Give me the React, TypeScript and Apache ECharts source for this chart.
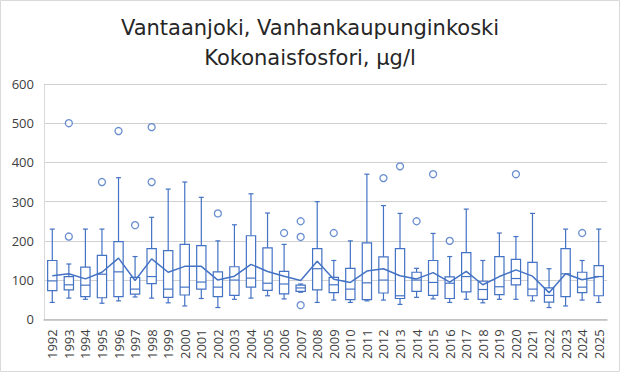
import React, { useEffect, useRef } from "react";
import * as echarts from "echarts";

const years = [
  "1992", "1993", "1994", "1995", "1996", "1997", "1998", "1999", "2000", "2001",
  "2002", "2003", "2004", "2005", "2006", "2007", "2008", "2009", "2010", "2011",
  "2012", "2013", "2014", "2015", "2016", "2017", "2018", "2019", "2020", "2021",
  "2022", "2023", "2024", "2025",
];
const whiskerLow = [43, 54, 51, 41, 47, 57, 54, 42, 34, 53, 30, 51, 54, 60, 52, 69, 43, 49, 43, 47, 49, 38, 56, 52, 43, 51, 42, 51, 51, 47, 30, 34, 49, 43];
const q1 = [73, 75, 58, 55, 58, 64, 91, 56, 62, 77, 58, 61, 82, 74, 65, 71, 75, 68, 50, 50, 67, 53, 71, 61, 53, 70, 51, 63, 88, 60, 44, 58, 68, 60];
const median = [98, 88, 87, 115, 121, 77, 109, 77, 82, 95, 82, 100, 105, 92, 90, 80, 129, 88, 77, 93, 100, 60, 100, 94, 92, 109, 76, 83, 104, 77, 61, 116, 82, 109];
const q3 = [150, 109, 133, 163, 198, 107, 180, 175, 191, 188, 121, 134, 213, 182, 122, 87, 180, 107, 130, 195, 159, 180, 120, 150, 108, 170, 97, 160, 153, 145, 80, 180, 120, 137];
const whiskerHigh = [230, 141, 230, 230, 361, 160, 260, 332, 350, 311, 200, 241, 320, 271, 191, 90, 300, 150, 200, 370, 290, 270, 130, 219, 160, 281, 150, 220, 211, 270, 129, 230, 150, 230];
const means = [111, 116, 103, 120, 156, 99, 154, 120, 135, 135, 100, 110, 140, 122, 110, 99, 148, 102, 94, 123, 129, 111, 103, 119, 95, 122, 88, 109, 126, 110, 68, 116, 101, 109];
const outlierYears = ["1993", "1993", "1995", "1996", "1997", "1998", "1998", "2002", "2006", "2007", "2007", "2007", "2009", "2012", "2013", "2014", "2015", "2016", "2020", "2024"];
const outlierValues = [500, 211, 350, 480, 240, 490, 350, 270, 220, 250, 210, 36, 220, 360, 390, 250, 370, 200, 370, 220];
const yTicks = [0, 100, 200, 300, 400, 500, 600];

const BLUE = "#4472C4";

export default function App() {
  const ref = useRef<HTMLDivElement>(null);
  useEffect(() => {
    if (!ref.current) return;
    const chart = echarts.init(ref.current, undefined, { renderer: "svg" });
    const boxData = years.map((_, i) => [i, whiskerLow[i], q1[i], median[i], q3[i], whiskerHigh[i]]);
    const outlierData = outlierYears.map((y, i) => [y, outlierValues[i]]);
    const option: any = {
      animation: false,
      backgroundColor: "#ffffff",
      title: {
        text: "Vantaanjoki, Vanhankaupunginkoski\nKokonaisfosfori, µg/l",
        left: "center",
        top: 8,
        textStyle: {
          fontFamily: "DejaVu Sans",
          fontSize: 21,
          fontWeight: "normal",
          color: "#262626",
          lineHeight: 30,
        },
      },
      graphic: [
        {
          type: "rect",
          shape: { x: 0.5, y: 0.5, width: 619, height: 371 },
          style: { fill: "none", stroke: "#d9d9d9", lineWidth: 1 },
          silent: true,
        },
      ],
      grid: { left: 44, right: 13, top: 84, bottom: 52.7 },
      xAxis: {
        type: "category",
        data: years,
        boundaryGap: true,
        axisTick: { show: false },
        axisLine: { show: true, lineStyle: { color: "#bfbfbf", width: 1.5 } },
        axisLabel: {
          rotate: 90,
          interval: 0,
          margin: 10,
          fontFamily: "Open Sans",
          fontSize: 13,
          color: "#404040",
        },
        splitLine: { show: false },
      },
      yAxis: {
        type: "value",
        min: yTicks[0],
        max: yTicks[yTicks.length - 1],
        interval: 100,
        axisLine: { show: true, lineStyle: { color: "#d9d9d9", width: 1 } },
        axisTick: { show: false },
        axisLabel: {
          margin: 10,
          fontFamily: "Open Sans",
          fontSize: 13,
          color: "#404040",
        },
        splitLine: { show: true, lineStyle: { color: "#d0d0d0", width: 1.2 } },
      },
      series: [
        {
          type: "custom",
          name: "box",
          data: boxData,
          encode: { x: 0, y: [1, 2, 3, 4, 5] },
          z: 2,
          renderItem: (params: any, api: any) => {
            const idx = api.value(0);
            const pLo = api.coord([idx, api.value(1)]);
            const pQ1 = api.coord([idx, api.value(2)]);
            const pMed = api.coord([idx, api.value(3)]);
            const pQ3 = api.coord([idx, api.value(4)]);
            const pHi = api.coord([idx, api.value(5)]);
            const cw = api.size([1, 0])[0];
            const bw = cw * 0.56;
            const cx = pQ1[0];
            const cap = 2.5;
            const st = { stroke: BLUE, lineWidth: 1.2, fill: "none" };
            return {
              type: "group",
              children: [
                { type: "line", shape: { x1: cx, y1: pLo[1], x2: cx, y2: pQ1[1] }, style: st },
                { type: "line", shape: { x1: cx, y1: pQ3[1], x2: cx, y2: pHi[1] }, style: st },
                { type: "line", shape: { x1: cx - cap, y1: pLo[1], x2: cx + cap, y2: pLo[1] }, style: st },
                { type: "line", shape: { x1: cx - cap, y1: pHi[1], x2: cx + cap, y2: pHi[1] }, style: st },
                {
                  type: "rect",
                  shape: { x: cx - bw / 2, y: pQ3[1], width: bw, height: pQ1[1] - pQ3[1] },
                  style: { stroke: BLUE, lineWidth: 1.2, fill: "#ffffff" },
                },
                { type: "line", shape: { x1: cx - bw / 2, y1: pMed[1], x2: cx + bw / 2, y2: pMed[1] }, style: st },
              ],
            };
          },
        },
        {
          type: "line",
          name: "mean",
          data: means,
          symbol: "none",
          z: 3,
          lineStyle: { color: BLUE, width: 1.5 },
          itemStyle: { color: BLUE },
        },
        {
          type: "scatter",
          name: "outliers",
          data: outlierData,
          symbol: "circle",
          symbolSize: 7,
          z: 4,
          itemStyle: { color: "#ffffff", borderColor: BLUE, borderWidth: 1.3 },
        },
      ],
    };
    chart.setOption(option);
    return () => chart.dispose();
  }, []);
  return (
    <div
      ref={ref}
      style={{ position: "fixed", left: 0, top: 0, width: 620, height: 372 }}
    />
  );
}
